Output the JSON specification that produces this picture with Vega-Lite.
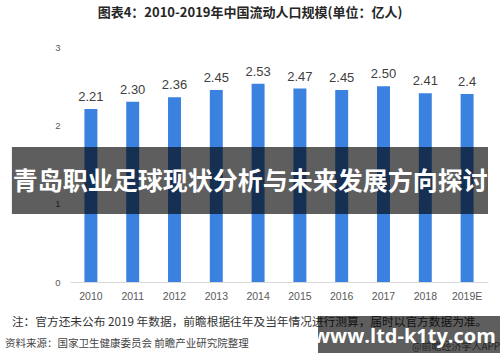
{
  "$schema": "https://vega.github.io/schema/vega-lite/v6.json",
  "width": 418,
  "height": 235,
  "autosize": {"type": "none"},
  "padding": {"left": 70, "top": 47, "right": 12, "bottom": 80},
  "background": "white",
  "config": {"view": {"stroke": null}, "font": "Noto Sans CJK SC"},
  "title": {
    "text": "图表4：2010-2019年中国流动人口规模(单位：亿人)",
    "fontSize": 13,
    "fontWeight": "bold",
    "color": "#262626",
    "font": "Noto Sans CJK SC",
    "anchor": "middle",
    "dx": -29,
    "offset": 22
  },
  "datasets": {
    "flows": [
      {"year": "2010", "value": 2.21, "label": "2.21"},
      {"year": "2011", "value": 2.30, "label": "2.30"},
      {"year": "2012", "value": 2.36, "label": "2.36"},
      {"year": "2013", "value": 2.45, "label": "2.45"},
      {"year": "2014", "value": 2.53, "label": "2.53"},
      {"year": "2015", "value": 2.47, "label": "2.47"},
      {"year": "2016", "value": 2.45, "label": "2.45"},
      {"year": "2017", "value": 2.50, "label": "2.50"},
      {"year": "2018", "value": 2.41, "label": "2.41"},
      {"year": "2019E", "value": 2.40, "label": "2.4"}
    ]
  },
  "layer": [
    {
      "data": {"name": "flows"},
      "mark": {"type": "bar", "color": "#3b82e0", "width": {"band": 0.31}},
      "encoding": {
        "x": {
          "field": "year",
          "type": "nominal",
          "sort": null,
          "scale": {"domain": ["2010","2011","2012","2013","2014","2015","2016","2017","2018","2019E"], "paddingInner": 0, "paddingOuter": 0},
          "axis": {
            "title": null,
            "labelAngle": 0,
            "ticks": false,
            "domainColor": "#d9d9d9",
            "domainWidth": 1,
            "labelColor": "#595959",
            "labelFontSize": 10.5,
            "labelFont": "Liberation Sans",
            "labelPadding": 9,
            "grid": false
          }
        },
        "y": {
          "field": "value",
          "type": "quantitative",
          "scale": {"domain": [0, 3], "nice": false, "zero": true},
          "axis": {
            "title": null,
            "values": [0, 0.5, 1, 1.5, 2, 2.5, 3],
            "labelExpr": "'' + datum.value",
            "grid": false,
            "domain": false,
            "ticks": false,
            "labelColor": "#595959",
            "labelFontSize": 9.5,
            "labelFont": "Liberation Sans",
            "labelPadding": 10
          }
        }
      }
    },
    {
      "data": {"name": "flows"},
      "mark": {"type": "text", "baseline": "alphabetic", "dy": -8, "fontSize": 13, "color": "#404040", "font": "Liberation Sans"},
      "encoding": {
        "x": {"field": "year", "type": "nominal", "sort": null},
        "y": {"field": "value", "type": "quantitative"},
        "text": {"field": "label"}
      }
    },
    {
      "data": {"values": [{"t": "注：官方还未公布 2019 年数据，前瞻根据往年及当年情况进行测算，届时以官方数据为准。"}]},
      "mark": {"type": "text", "align": "left", "baseline": "middle", "fontSize": 11.7, "color": "#333333", "font": "Noto Sans CJK SC"},
      "encoding": {
        "x": {"datum": "2010", "bandPosition": -1.39},
        "y": {"datum": -0.511},
        "text": {"field": "t"}
      }
    },
    {
      "data": {"values": [{"t": "资料来源：国家卫生健康委员会 前瞻产业研究院整理"}]},
      "mark": {"type": "text", "align": "left", "baseline": "middle", "fontSize": 10.5, "color": "#444444", "font": "Noto Sans CJK SC"},
      "encoding": {
        "x": {"datum": "2010", "bandPosition": -1.555},
        "y": {"datum": -0.79},
        "text": {"field": "t"}
      }
    },
    {
      "data": {"values": [{"t": "@前瞻经济学人APP"}]},
      "mark": {"type": "text", "align": "right", "baseline": "middle", "fontSize": 10, "color": "#666666", "font": "Noto Sans CJK SC"},
      "encoding": {
        "x": {"datum": "2019E", "bandPosition": 1.29},
        "y": {"datum": -0.83},
        "text": {"field": "t"}
      }
    },
    {
      "data": {"values": [{"t": "青岛职业足球现状分析与未来发展方向探讨"}]},
      "mark": {"type": "rect", "color": "black", "opacity": 0.63},
      "encoding": {
        "x": {"datum": "2010", "bandPosition": -1.39},
        "x2": {"datum": "2019E", "bandPosition": 1},
        "y": {"datum": 1.723},
        "y2": {"datum": 0.868}
      }
    },
    {
      "data": {"values": [{"t": "青岛职业足球现状分析与未来发展方向探讨"}]},
      "mark": {"type": "text", "align": "center", "baseline": "middle", "fontSize": 25, "fontWeight": "bold", "color": "white", "font": "Noto Sans CJK SC"},
      "encoding": {
        "x": {"datum": "2014", "bandPosition": 0.31},
        "y": {"datum": 1.277},
        "text": {"field": "t"}
      }
    },
    {
      "data": {"values": [{"t": "www.ltd-k1ty.com"}]},
      "mark": {"type": "rect", "color": "black", "opacity": 0.63},
      "encoding": {
        "x": {"datum": "2016", "bandPosition": -0.067},
        "x2": {"datum": "2019E", "bandPosition": 1.3},
        "y": {"datum": -0.434},
        "y2": {"datum": -0.906}
      }
    },
    {
      "data": {"values": [{"t": "www.ltd-k1ty.com"}]},
      "mark": {"type": "text", "align": "center", "baseline": "middle", "fontSize": 20, "fontWeight": "bold", "color": "white", "font": "Open Sans"},
      "encoding": {
        "x": {"datum": "2018", "bandPosition": 0},
        "y": {"datum": -0.702},
        "text": {"field": "t"}
      }
    }
  ]
}
